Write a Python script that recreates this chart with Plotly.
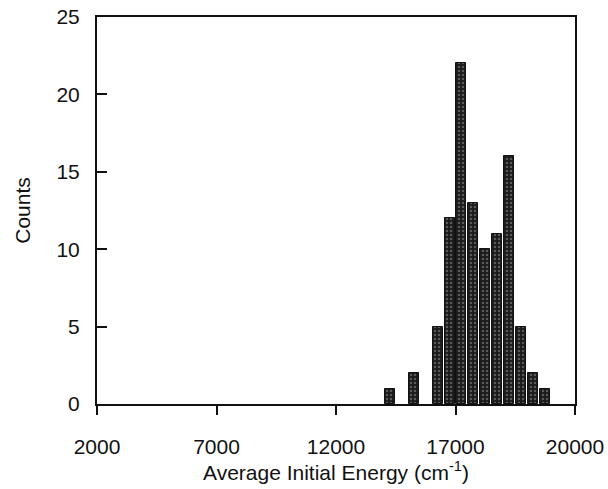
import plotly.graph_objects as go

bin_start = [14000, 15000, 16000, 16500, 17000, 17500, 18000, 18500, 19000, 19500, 20000, 20500]
counts = [1, 2, 5, 12, 22, 13, 10, 11, 16, 5, 2, 1]
x_tick_vals = [2000, 7000, 12000, 17000, 22000]
x_tick_text = ["2000", "7000", "12000", "17000", "20000"]
y_tick_vals = [0, 5, 10, 15, 20, 25]

bin_width = 500
centers = [b + bin_width / 2 for b in bin_start]

fig = go.Figure(go.Bar(
    x=centers, y=counts, width=[bin_width * 0.84] * len(counts),
    marker=dict(color="#1a1a1a", line=dict(color="#111111", width=1),
                pattern=dict(shape=".", fgcolor="#9a9a9a", bgcolor="#1a1a1a", size=4, solidity=0.3)),
))

fig.update_layout(
    width=608, height=489,
    margin=dict(l=97, r=33, t=17, b=85, autoexpand=False),
    paper_bgcolor="white", plot_bgcolor="white",
    font=dict(family="Liberation Sans, Arial, sans-serif", size=21, color="#111"),
    showlegend=False, bargap=0,
)
fig.update_xaxes(
    range=[2000, 22000], tickvals=x_tick_vals, ticktext=x_tick_text,
    ticks="outside", ticklen=9, tickwidth=2, tickcolor="#111",
    showline=True, linecolor="#111", linewidth=2, mirror=True,
    showgrid=False, zeroline=False, ticklabelstandoff=14, automargin=False,
    ticklabeloverflow="allow",
    title=dict(text="Average Initial Energy (cm<sup>-1</sup>)", font=dict(size=21), standoff=8),
)
fig.update_yaxes(
    range=[0, 25], tickvals=y_tick_vals,
    ticks="inside", ticklen=10, tickwidth=2, tickcolor="#111",
    showline=True, linecolor="#111", linewidth=2, mirror=True,
    showgrid=False, zeroline=False, ticklabelstandoff=11, automargin=False,
    ticklabeloverflow="allow",
    title=dict(text="Counts", font=dict(size=21), standoff=20),
)

fig.write_html("out.html", config={"displayModeBar": False},
               post_script="document.body.style.margin='0';")
